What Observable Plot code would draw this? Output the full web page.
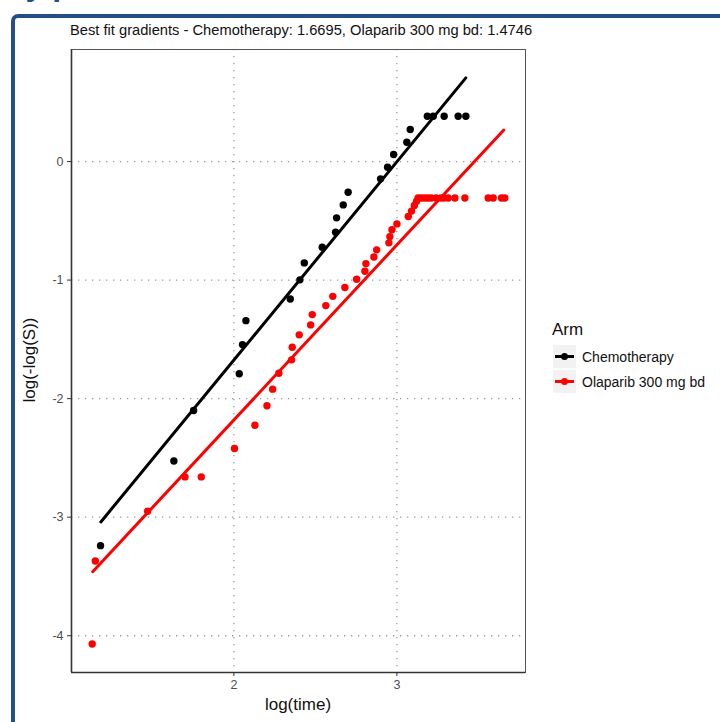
<!DOCTYPE html>
<html>
<head>
<meta charset="utf-8">
<script src="https://cdn.jsdelivr.net/npm/d3@7"></script>
<script src="https://cdn.jsdelivr.net/npm/@observablehq/plot@0.6"></script>
<style>
  html, body { margin: 0; padding: 0; background: #fff; overflow: hidden; }
  #wrap { position: relative; width: 720px; height: 722px; overflow: hidden; font-family: "Liberation Sans", Arial, sans-serif; }
  #wrap svg { position: absolute; left: 0; top: 0; }
  .frame { position: absolute; left: 11px; top: 14px; width: 900px; height: 900px; border: 4px solid #234e86; border-top-left-radius: 7px; box-sizing: border-box; }
  .heading { position: absolute; left: 6px; top: -32px; font: bold 32px/32px "Liberation Sans", Arial, sans-serif; color: #234e86; white-space: nowrap; }
  .heading .pre { position: absolute; right: 100%; top: 0; }
  .title { position: absolute; left: 70px; top: 22px; font-size: 14.7px; color: #111; white-space: nowrap; }
  .xlab { position: absolute; left: 71px; width: 454px; top: 695px; text-align: center; font-size: 17px; color: #111; }
  .ylab { position: absolute; left: 30px; top: 360px; font-size: 17px; color: #111; transform: translate(-50%, -50%) rotate(-90deg); white-space: nowrap; }
  .legend { position: absolute; left: 552px; top: 320px; }
  .legend .lt { font-size: 17px; color: #111; margin-bottom: 4px; }
  .legend .row { display: flex; align-items: center; height: 25px; }
  .legend .key { width: 23px; height: 23px; background: #f2f2f2; position: relative; margin-right: 6px; margin-left: 1px; }
  .legend .key .ln { position: absolute; left: 2px; right: 2px; top: 10px; height: 3px; }
  .legend .key .pt { position: absolute; left: 8px; top: 8px; width: 7px; height: 7px; border-radius: 50%; }
  .legend .tx { font-size: 14px; color: #111; }
</style>
</head>
<body>
<div id="wrap">
  <div class="heading"><span class="pre">Log cumulative hazard </span>by plot</div>
  <div class="frame"></div>
</div>
<script>
const arms = ["Chemotherapy", "Olaparib 300 mg bd"];
const armColors = ["#000000", "#ff0000"];

const chemoX = [1.182, 1.632, 1.753, 2.033, 2.053, 2.074, 2.346, 2.405, 2.432, 2.542, 2.624, 2.630, 2.671, 2.701, 2.900, 2.943, 2.980, 3.061, 3.082, 3.187, 3.223, 3.290, 3.376, 3.423];
const chemoY = [-3.24, -2.526, -2.10, -1.79, -1.544, -1.342, -1.159, -0.998, -0.855, -0.723, -0.596, -0.475, -0.366, -0.259, -0.146, -0.048, 0.059, 0.163, 0.270, 0.382, 0.382, 0.382, 0.382, 0.382];

const olapX = [1.131, 1.150, 1.471, 1.700, 1.800, 2.004, 2.129, 2.203, 2.238, 2.276, 2.354, 2.358, 2.401, 2.471, 2.481, 2.564, 2.607, 2.681, 2.753, 2.804, 2.810, 2.859, 2.876, 2.951, 2.957, 2.970, 3.000, 3.070, 3.090, 3.107, 3.121, 3.130, 3.150, 3.170, 3.190, 3.210, 3.240, 3.270, 3.290, 3.315, 3.356, 3.417, 3.560, 3.591, 3.642, 3.662];
const olapY = [-4.07, -3.37, -2.95, -2.66, -2.66, -2.42, -2.225, -2.06, -1.92, -1.786, -1.673, -1.567, -1.462, -1.378, -1.291, -1.215, -1.137, -1.063, -0.993, -0.926, -0.861, -0.805, -0.745, -0.686, -0.633, -0.576, -0.526, -0.464, -0.418, -0.371, -0.335, -0.307, -0.307, -0.307, -0.307, -0.307, -0.307, -0.307, -0.307, -0.307, -0.307, -0.307, -0.307, -0.307, -0.307, -0.307];

// Best-fit line endpoints
const chemoFitX = [1.184, 3.423];
const chemoFitY = [-3.04, 0.706];
const olapFitX = [1.134, 3.656];
const olapFitY = [-3.46, 0.266];

const gradients = [1.6695, 1.4746];
const xTicks = [2, 3];
const yTicks = [-4, -3, -2, -1, 0];

const points = [
  ...chemoX.map((x, i) => ({x, y: chemoY[i], arm: arms[0]})),
  ...olapX.map((x, i) => ({x, y: olapY[i], arm: arms[1]}))
];
const fits = [
  ...chemoFitX.map((x, i) => ({x, y: chemoFitY[i], arm: arms[0]})),
  ...olapFitX.map((x, i) => ({x, y: olapFitY[i], arm: arms[1]}))
];

const plot = Plot.plot({
  width: 720,
  height: 722,
  marginLeft: 71,
  marginRight: 195,
  marginTop: 49,
  marginBottom: 50,
  style: {fontFamily: "'Liberation Sans', Arial, sans-serif", background: "transparent"},
  x: {domain: [1.004, 3.789]},
  y: {domain: [-4.31, 0.945]},
  color: {domain: arms, range: armColors},
  marks: [
    Plot.gridX(xTicks, {stroke: "#9a9a9a", strokeOpacity: 1, strokeWidth: 1.3, strokeDasharray: "1.3,5.7"}),
    Plot.gridY(yTicks, {stroke: "#9a9a9a", strokeOpacity: 1, strokeWidth: 1.3, strokeDasharray: "1.3,5.7"}),
    Plot.frame({stroke: "#555", strokeWidth: 1}),
    Plot.ruleX([1.004], {stroke: "#333", strokeWidth: 1.6}),
    Plot.ruleY([-4.31], {stroke: "#333", strokeWidth: 1.6}),
    Plot.axisX(xTicks, {tickSize: 4, tickPadding: 4, fontSize: 12.5, color: "#4d4d4d", stroke: "#333", label: null, tickFormat: d => String(d)}),
    Plot.axisY(yTicks, {tickSize: 4, tickPadding: 4, fontSize: 12.5, color: "#4d4d4d", stroke: "#333", label: null, tickFormat: d => String(d)}),
    Plot.dot(points, {x: "x", y: "y", fill: "arm", r: 3.7, stroke: "none"}),
    Plot.line(fits, {x: "x", y: "y", z: "arm", stroke: "arm", strokeWidth: 3})
  ]
});

const wrap = document.getElementById("wrap");
wrap.insertBefore(plot, wrap.firstChild);

const title = document.createElement("div");
title.className = "title";
title.textContent = `Best fit gradients - ${arms[0]}: ${gradients[0].toFixed(4)}, ${arms[1]}: ${gradients[1].toFixed(4)}`;
wrap.appendChild(title);

const xl = document.createElement("div");
xl.className = "xlab"; xl.textContent = "log(time)";
wrap.appendChild(xl);
const yl = document.createElement("div");
yl.className = "ylab"; yl.textContent = "log(-log(S))";
wrap.appendChild(yl);

const lg = document.createElement("div");
lg.className = "legend";
let html = `<div class="lt">Arm</div>`;
arms.forEach((a, i) => {
  html += `<div class="row"><div class="key"><div class="ln" style="background:${armColors[i]}"></div><div class="pt" style="background:${armColors[i]}"></div></div><div class="tx">${a}</div></div>`;
});
lg.innerHTML = html;
wrap.appendChild(lg);
</script>
</body>
</html>
